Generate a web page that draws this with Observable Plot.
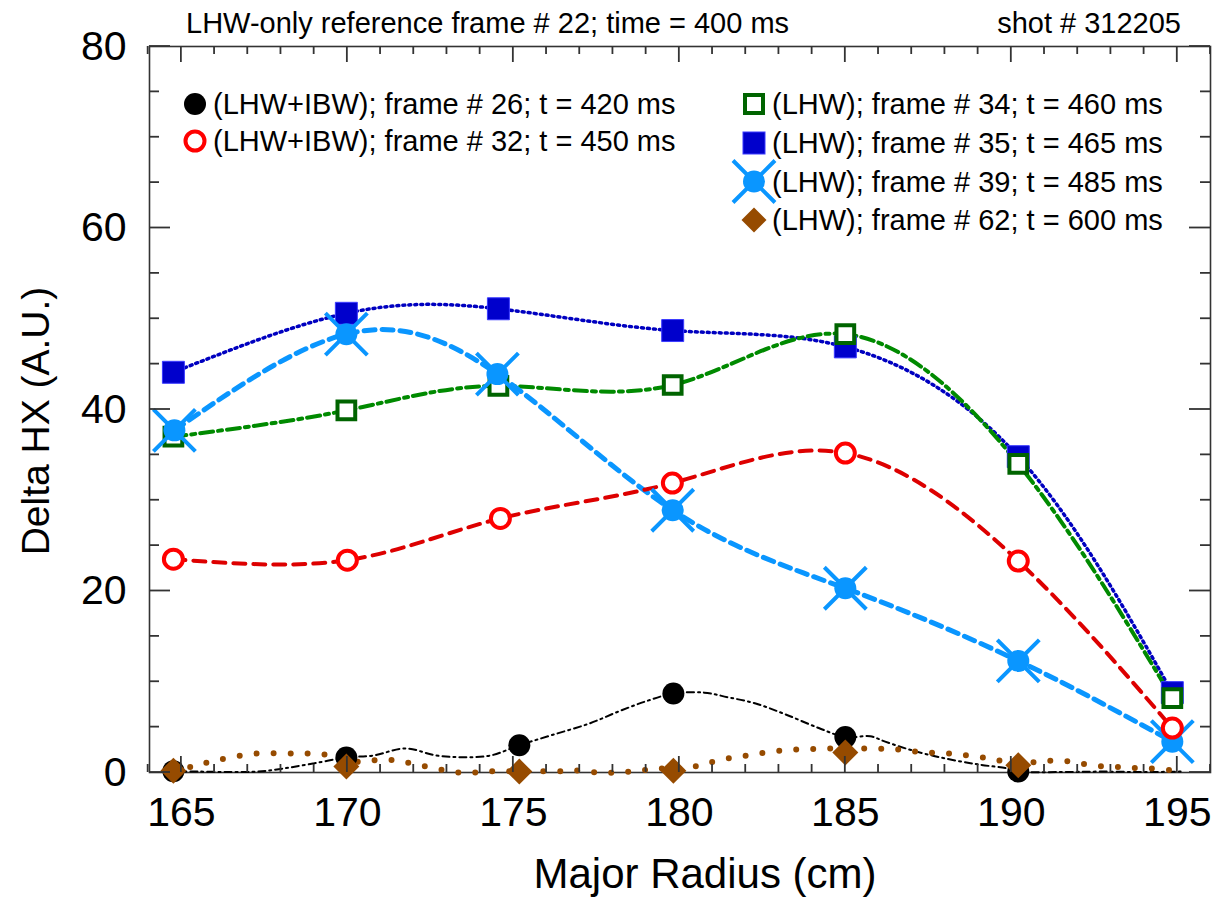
<!DOCTYPE html>
<html><head><meta charset="utf-8">
<script src="https://cdn.jsdelivr.net/npm/d3@7"></script>
<script src="https://cdn.jsdelivr.net/npm/@observablehq/plot@0.6"></script>
<style>
body{margin:0;background:#fff;}
#wrap{position:relative;width:1222px;height:899px;font-family:"Liberation Sans",Arial,Helvetica,sans-serif;}
#wrap svg{position:absolute;left:0;top:0;}
</style></head><body><div id="wrap"></div>
<script>
// ---------------- texts ----------------
const titleText = "LHW-only reference frame # 22; time = 400 ms";
const shotText = "shot # 312205";
const xLabel = "Major Radius (cm)";
const yLabel = "Delta HX (A.U.)";
const xTicks = [165, 170, 175, 180, 185, 190, 195];
const yTicks = [0, 20, 40, 60, 80];
const xMinorTicks = [164,166,167,168,169,171,172,173,174,176,177,178,179,181,182,183,184,186,187,188,189,191,192,193,194,196];
const yMinorTicks = [5,10,15,25,30,35,45,50,55,65,70,75];

// ---------------- series labels ----------------
const label26 = "(LHW+IBW); frame # 26; t = 420 ms";
const label32 = "(LHW+IBW); frame # 32; t = 450 ms";
const label34 = "(LHW); frame # 34; t = 460 ms";
const label35 = "(LHW); frame # 35; t = 465 ms";
const label39 = "(LHW); frame # 39; t = 485 ms";
const label62 = "(LHW); frame # 62; t = 600 ms";

// ---------------- measured points (markers) ----------------
const radius26 = [164.76, 169.97, 175.18, 179.82, 185.0, 190.21];
const value26  = [0.15, 1.65, 3.0, 8.7, 3.9, 0.1];
const radius32 = [164.76, 170.0, 174.61, 179.79, 185.0, 190.21, 194.85];
const value32  = [23.5, 23.4, 28.0, 31.9, 35.2, 23.3, 4.9];
const radius34 = [164.76, 169.97, 174.55, 179.8, 185.0, 190.21, 194.85];
const value34  = [37.0, 39.9, 42.6, 42.7, 48.3, 34.0, 8.2];
const radius35 = [164.76, 169.97, 174.55, 179.8, 185.0, 190.21, 194.85];
const value35  = [44.1, 50.6, 51.1, 48.7, 46.9, 34.8, 8.8];
const radius39 = [164.79, 169.97, 174.52, 179.8, 185.0, 190.21, 194.85];
const value39  = [37.7, 48.3, 43.9, 28.9, 20.3, 12.3, 3.4];
const radius62 = [164.76, 169.97, 175.18, 179.82, 185.0, 190.21];
const value62  = [0.2, 0.65, 0.1, 0.2, 2.2, 0.8];

// ---------------- traced curves ----------------
const curveRadius26 = [164.76,165.5,166.5,167.3,168.07,168.98,169.97,170.78,171.75,172.68,173.49,174.31,175.18,176.14,177.29,178.22,179.04,179.82,180.75,181.45,182.3,183.2,184.2,185.0,185.75,186.2,187.05,188.07,189.07,189.9,190.21,191.5,192.7,194.0,195.1];
const curveValue26  = [0.1,0.1,0.05,0.1,0.44,1.0,1.65,1.87,2.65,1.87,1.69,1.87,3.0,4.1,5.4,6.8,7.9,8.7,8.8,8.3,7.6,6.4,4.9,3.9,4.0,3.4,2.4,1.5,0.85,0.44,0.1,0.05,0.1,0.05,0.1];
const curveRadius62 = [164.76,165.33,165.9,166.6,167.29,168.04,168.7,169.28,169.9,170.44,170.98,171.54,172.06,172.62,173.22,173.8,174.42,175.1,175.74,176.35,176.89,177.53,178.19,178.8,179.37,180.23,180.72,181.27,181.84,182.4,183.0,183.6,184.2,184.8,185.4,186.05,186.56,187.08,187.65,188.21,188.73,189.28,189.75,190.3,190.81,191.27,191.78,192.26,192.8,193.31,193.8,194.36,194.91];
const curveValue62  = [0.2,0.66,1.2,1.76,2.1,2.1,2.1,2.0,1.5,1.14,1.43,1.29,0.88,0.47,0.03,0.0,0.14,0.14,0.14,0.14,0.22,0.0,0.0,0.22,0.41,0.52,0.88,1.43,1.76,2.1,2.4,2.55,2.6,2.65,2.65,2.61,2.54,2.32,2.17,2.06,1.87,1.58,1.25,1.15,1.14,1.32,1.21,0.88,0.66,0.58,0.47,0.41,0.22];

// ---------------- colours ----------------
const cBlack = "#000000", cRed = "#ff0000", cRedLine = "#dd0000";
const cGreen = "#006400", cGreenLine = "#008a00";
const cBlue = "#0000cc", cBlueLine = "#0000c0";
const cLight = "#0a96ff", cBrown = "#964b00";

const table = (r, v) => r.map((x, i) => ({r: x, v: v[i]}));
const d26 = table(radius26, value26), d32 = table(radius32, value32), d34 = table(radius34, value34);
const d35 = table(radius35, value35), d39 = table(radius39, value39), d62 = table(radius62, value62);
const c26 = table(curveRadius26, curveValue26), c62 = table(curveRadius62, curveValue62);

const xSymbol = {draw(ctx, size) { const a = Math.sqrt(size / Math.PI); ctx.moveTo(-a, -a); ctx.lineTo(a, a); ctx.moveTo(-a, a); ctx.lineTo(a, -a); }};

const font = "Liberation Sans, Arial, Helvetica, sans-serif";
const W = 1222, H = 899, mL = 149, mR = 12, mT = 46, mB = 127;

const chart = Plot.plot({
  width: W, height: H,
  marginLeft: mL, marginRight: mR, marginTop: mT, marginBottom: mB,
  x: {domain: [164.04, 196]},
  y: {domain: [0, 80]},
  style: {fontFamily: font, background: "white", color: "black"},
  marks: [
    Plot.axisX({anchor: "bottom", ticks: xTicks, tickSize: 0, tickPadding: 24, fontSize: 41, tickFormat: d => String(d), label: null}),
    Plot.axisY({anchor: "left", ticks: yTicks, tickSize: 0, tickPadding: 23, fontSize: 41, tickFormat: d => String(d), label: null}),
    Plot.frame({stroke: "#333", strokeWidth: 1.6}),

    // lines
    Plot.line(d35, {x: "r", y: "v", curve: "natural", stroke: cBlueLine, strokeWidth: 3.5, strokeDasharray: "2,4"}),
    Plot.line(d34, {x: "r", y: "v", curve: "natural", stroke: cGreenLine, strokeWidth: 4, strokeDasharray: "13,5,4,5"}),
    Plot.line(d39, {x: "r", y: "v", curve: "natural", stroke: cLight, strokeWidth: 5, strokeDasharray: "11,7"}),
    Plot.line(d32, {x: "r", y: "v", curve: "natural", stroke: cRedLine, strokeWidth: 4, strokeDasharray: "12,8"}),
    Plot.line(c26, {x: "r", y: "v", curve: "catmull-rom", stroke: cBlack, strokeWidth: 2, strokeDasharray: "7,4,2,4"}),
    Plot.line(c62, {x: "r", y: "v", curve: "catmull-rom", stroke: cBrown, strokeWidth: 6, strokeDasharray: "0,17", strokeLinecap: "round"}),

    // markers
    Plot.dot(d35, {x: "r", y: "v", symbol: "square", r: 12.4, fill: cBlue, stroke: "#3a3aff", strokeWidth: 1}),
    Plot.dot(d34, {x: "r", y: "v", symbol: "square", r: 10, fill: "white", stroke: cGreen, strokeWidth: 4}),
    Plot.dot(d39, {x: "r", y: "v", symbol: xSymbol, r: 21, fill: "none", stroke: cLight, strokeWidth: 4}),
    Plot.dot(d39, {x: "r", y: "v", r: 11, fill: cLight}),
    Plot.dot(d32, {x: "r", y: "v", r: 9.5, fill: "white", stroke: cRed, strokeWidth: 4}),
    Plot.dot(d26, {x: "r", y: "v", r: 11, fill: cBlack}),
    Plot.dot(d62, {x: "r", y: "v", symbol: "diamond2", r: 11.7, fill: cBrown})
  ]
});

const wrap = document.getElementById("wrap");
wrap.appendChild(chart);

// ---------------- overlay: inward ticks (via Plot's scales), titles and legend ----------------
const svg = d3.select(wrap).append("svg").attr("width", W).attr("height", H)
  .attr("font-family", font).style("pointer-events", "none");

const frameTop = mT, frameBottom = H - mB, frameLeft = mL, frameRight = W - mR;
let sxApply = v => frameLeft + (v - 164.04) / (196 - 164.04) * (frameRight - frameLeft);
let syApply = v => frameBottom - v / 80 * (frameBottom - frameTop);
try {
  const sx = chart.scale("x"), sy = chart.scale("y");
  if (sx && sx.apply) sxApply = v => sx.apply(v);
  if (sy && sy.apply) syApply = v => sy.apply(v);
} catch (err) {}

const tg = svg.append("g").attr("stroke", "#333").attr("stroke-width", 1.8);
const vTick = (v, len) => {
  const px = sxApply(v);
  tg.append("line").attr("x1", px).attr("x2", px).attr("y1", frameBottom).attr("y2", frameBottom - len);
  tg.append("line").attr("x1", px).attr("x2", px).attr("y1", frameTop).attr("y2", frameTop + len);
};
const hTick = (v, len) => {
  const py = syApply(v);
  tg.append("line").attr("y1", py).attr("y2", py).attr("x1", frameLeft).attr("x2", frameLeft + len);
  tg.append("line").attr("y1", py).attr("y2", py).attr("x1", frameRight).attr("x2", frameRight - len);
};
xMinorTicks.forEach(v => vTick(v, 8));
xTicks.forEach(v => vTick(v, 16));
yMinorTicks.forEach(v => hTick(v, 10));
yTicks.forEach(v => hTick(v, 21));

svg.append("text").attr("x", 186).attr("y", 33).attr("font-size", 29).text(titleText);
svg.append("text").attr("x", 1181).attr("y", 33).attr("font-size", 29).attr("text-anchor", "end").text(shotText);
svg.append("text").attr("x", 705).attr("y", 888).attr("font-size", 42).attr("text-anchor", "middle").text(xLabel);
svg.append("text").attr("transform", "translate(49,421) rotate(-90)").attr("font-size", 39).attr("text-anchor", "middle").text(yLabel);

const legend = [
  {label: label26, col: 0, row: 0, kind: "dot"},
  {label: label32, col: 0, row: 1, kind: "ring"},
  {label: label34, col: 1, row: 0, kind: "openSquare"},
  {label: label35, col: 1, row: 1, kind: "square"},
  {label: label39, col: 1, row: 2, kind: "cross"},
  {label: label62, col: 1, row: 3, kind: "diamond"}
];
const colMarker = [195, 754], colText = [213, 772];
const rowCenter = [[104, 141], [104, 143, 181.5, 220]];
legend.forEach(e => {
  const cx = colMarker[e.col], cy = rowCenter[e.col][e.row];
  const g = svg.append("g");
  if (e.kind === "dot") g.append("circle").attr("cx", cx).attr("cy", cy).attr("r", 11).attr("fill", cBlack);
  if (e.kind === "ring") g.append("circle").attr("cx", cx).attr("cy", cy).attr("r", 9.5).attr("fill", "white").attr("stroke", cRed).attr("stroke-width", 4);
  if (e.kind === "openSquare") g.append("rect").attr("x", cx - 9).attr("y", cy - 9).attr("width", 18).attr("height", 18).attr("fill", "white").attr("stroke", cGreen).attr("stroke-width", 4);
  if (e.kind === "square") g.append("rect").attr("x", cx - 11).attr("y", cy - 11).attr("width", 22).attr("height", 22).attr("fill", cBlue).attr("stroke", "#3a3aff");
  if (e.kind === "cross") {
    g.append("path").attr("d", `M${cx-21},${cy-21}L${cx+21},${cy+21}M${cx-21},${cy+21}L${cx+21},${cy-21}`).attr("stroke", cLight).attr("stroke-width", 4);
    g.append("circle").attr("cx", cx).attr("cy", cy).attr("r", 11).attr("fill", cLight);
  }
  if (e.kind === "diamond") g.append("path").attr("d", `M${cx},${cy-12.5}L${cx+12.5},${cy}L${cx},${cy+12.5}L${cx-12.5},${cy}Z`).attr("fill", cBrown);
  g.append("text").attr("x", colText[e.col]).attr("y", cy + 10).attr("font-size", 29).text(e.label);
});
</script>
</body></html>
